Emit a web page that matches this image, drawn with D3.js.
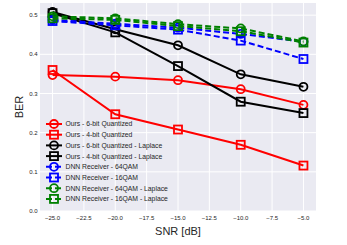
<!DOCTYPE html>
<html>
<head>
<meta charset="utf-8">
<script src="https://cdn.jsdelivr.net/npm/d3@7"></script>
<style>
  body { margin: 0; background: #fff; }
  svg { font-family: "Liberation Sans", Arial, sans-serif; }
</style>
</head>
<body>
<svg width="347" height="245"></svg>
<script>
const snr = [-25, -20, -15, -10, -5];
const xTicks = [-25, -22.5, -20, -17.5, -15, -12.5, -10, -7.5, -5];
const yTicks = [0, 0.1, 0.2, 0.3, 0.4, 0.5];

const ours6 = [0.347, 0.343, 0.334, 0.311, 0.271];
const ours4 = [0.360, 0.247, 0.208, 0.169, 0.116];
const ours6Lap = [0.508, 0.464, 0.423, 0.349, 0.317];
const ours4Lap = [0.505, 0.456, 0.370, 0.279, 0.250];
const dnn64 = [0.488, 0.478, 0.468, 0.452, 0.432];
const dnn16 = [0.485, 0.474, 0.463, 0.435, 0.388];
const dnn64Lap = [0.497, 0.492, 0.477, 0.466, 0.433];
const dnn16Lap = [0.492, 0.488, 0.472, 0.459, 0.430];

const series = [
  {name: "Ours - 6-bit Quantized", values: ours6, color: "red", marker: "circle", dash: false},
  {name: "Ours - 4-bit Quantized", values: ours4, color: "red", marker: "square", dash: false},
  {name: "Ours - 6-bit Quantized - Laplace", values: ours6Lap, color: "black", marker: "circle", dash: false},
  {name: "Ours - 4-bit Quantized - Laplace", values: ours4Lap, color: "black", marker: "square", dash: false},
  {name: "DNN Receiver - 64QAM", values: dnn64, color: "blue", marker: "circle", dash: true},
  {name: "DNN Receiver - 16QAM", values: dnn16, color: "blue", marker: "square", dash: true},
  {name: "DNN Receiver - 64QAM - Laplace", values: dnn64Lap, color: "green", marker: "circle", dash: true},
  {name: "DNN Receiver - 16QAM - Laplace", values: dnn16Lap, color: "green", marker: "square", dash: true}
];

const svg = d3.select("svg");
const pLeft = 40, pRight = 316, pTop = 3, pBottom = 211;

const x = d3.scaleLinear().domain([-26, -4]).range([pLeft, pRight]);
const y = d3.scaleLinear().domain([0, 0.531]).range([pBottom, pTop]);

svg.append("rect")
  .attr("x", pLeft).attr("y", pTop)
  .attr("width", pRight - pLeft).attr("height", pBottom - pTop)
  .attr("fill", "#EAEAF2");

// grid
svg.append("g").selectAll("line").data(xTicks).enter().append("line")
  .attr("x1", d => x(d)).attr("x2", d => x(d))
  .attr("y1", pTop).attr("y2", pBottom)
  .attr("stroke", "#fff").attr("stroke-width", 1);
svg.append("g").selectAll("line").data(yTicks).enter().append("line")
  .attr("x1", pLeft).attr("x2", pRight)
  .attr("y1", d => y(d)).attr("y2", d => y(d))
  .attr("stroke", "#fff").attr("stroke-width", 1);

// tick labels
svg.append("g").selectAll("text").data(xTicks).enter().append("text")
  .attr("x", d => x(d)).attr("y", 219.5)
  .attr("text-anchor", "middle")
  .attr("font-size", 6).attr("fill", "#262626")
  .text(d => d.toFixed(1).replace("-", "\u2212"));
svg.append("g").selectAll("text").data(yTicks).enter().append("text")
  .attr("x", 37.5).attr("y", d => y(d) + 2.1)
  .attr("text-anchor", "end")
  .attr("font-size", 6).attr("fill", "#262626")
  .text(d => d.toFixed(1));

svg.append("text")
  .attr("x", (pLeft + pRight) / 2).attr("y", 235)
  .attr("text-anchor", "middle")
  .attr("font-size", 11).attr("fill", "#262626")
  .text("SNR [dB]");
svg.append("text")
  .attr("transform", `translate(23,${(pTop + pBottom) / 2}) rotate(-90)`)
  .attr("text-anchor", "middle")
  .attr("font-size", 11).attr("fill", "#262626")
  .text("BER");

function drawMarker(g, kind, cx, cy, color) {
  if (kind === "circle") {
    g.append("circle").attr("cx", cx).attr("cy", cy).attr("r", 4)
      .attr("fill", "none").attr("stroke", color).attr("stroke-width", 1.8);
  } else {
    g.append("rect").attr("x", cx - 4).attr("y", cy - 4)
      .attr("width", 8).attr("height", 8)
      .attr("fill", "none").attr("stroke", color).attr("stroke-width", 1.8);
  }
}

const line = d3.line().x((d, i) => x(snr[i])).y(d => y(d));

series.forEach(s => {
  const g = svg.append("g");
  g.append("path")
    .attr("d", line(s.values))
    .attr("fill", "none")
    .attr("stroke", s.color)
    .attr("stroke-width", 2)
    .attr("stroke-dasharray", s.dash ? "6,3" : null);
  s.values.forEach((v, i) => drawMarker(g, s.marker, x(snr[i]), y(v), s.color));
});

// legend
const legend = svg.append("g");
series.forEach((s, i) => {
  const ly = 124 + i * 10.7;
  legend.append("line")
    .attr("x1", 46).attr("x2", 62).attr("y1", ly).attr("y2", ly)
    .attr("stroke", s.color).attr("stroke-width", 2)
    .attr("stroke-dasharray", s.dash ? "6,3" : null);
  drawMarker(legend, s.marker, 54, ly, s.color);
  legend.append("text")
    .attr("x", 65.5).attr("y", ly + 2.4)
    .attr("font-size", 6.8).attr("fill", "#262626")
    .text(s.name);
});
</script>
</body>
</html>
